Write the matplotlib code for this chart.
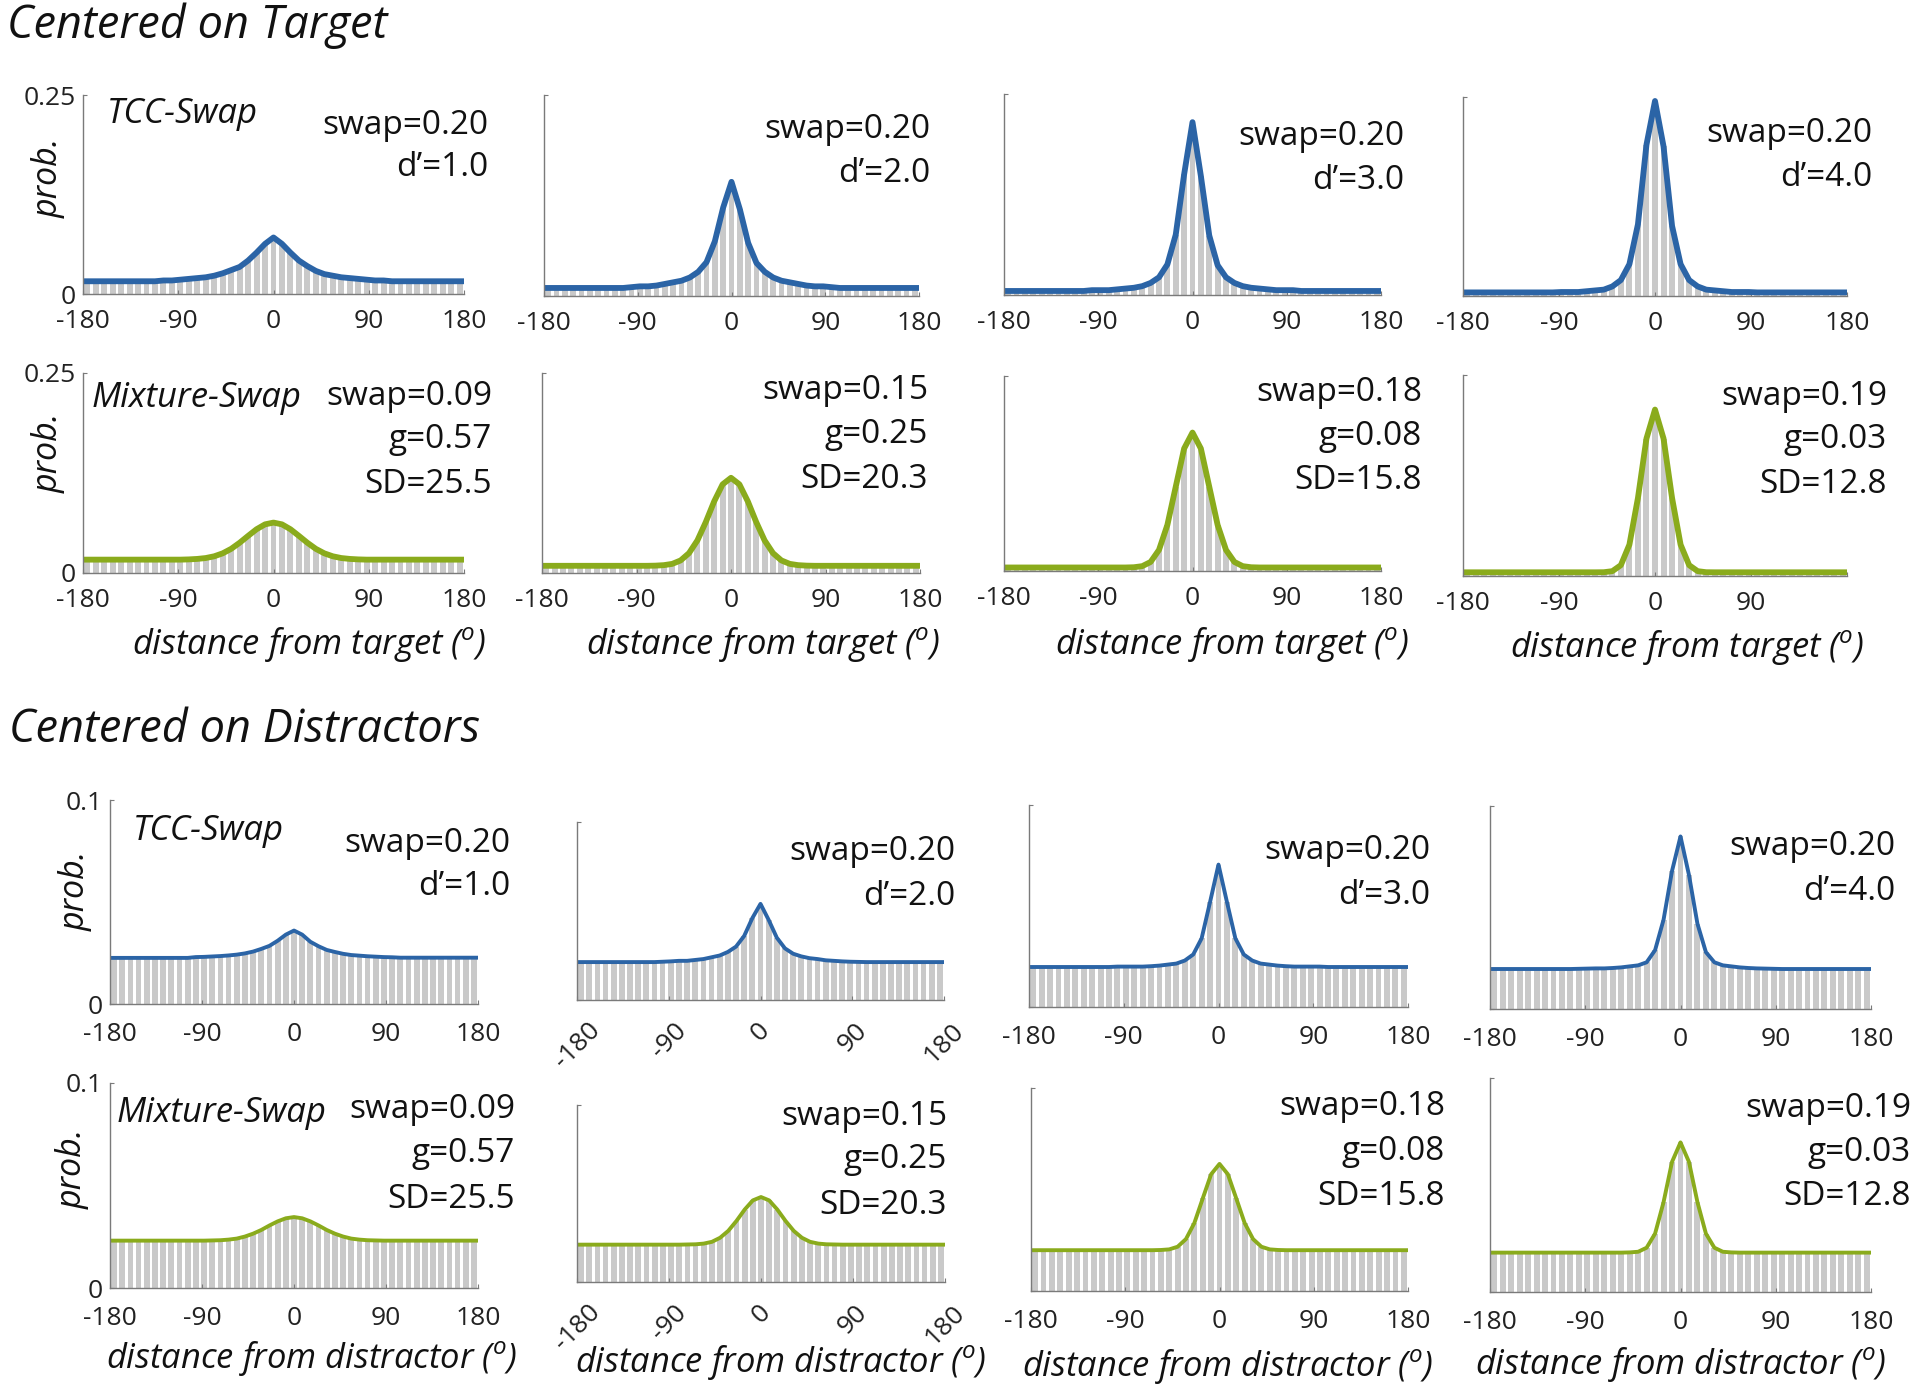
import numpy as np
import matplotlib
matplotlib.use("Agg")
import matplotlib.pyplot as plt

plt.rcParams['font.family'] = ['Open Sans', 'DejaVu Sans']
plt.rcParams['axes.unicode_minus'] = False
plt.rcParams['mathtext.fontset'] = 'custom'
plt.rcParams['mathtext.rm'] = 'Open Sans'
plt.rcParams['mathtext.it'] = 'Open Sans:italic'

# ---------------- data ----------------
bin_centers = list(range(-176, 177, 8))          # 45 bins of 8 deg
xticks = [-180, -90, 0, 90, 180]

# Centered on target, TCC-Swap (d' = 1..4)
tcc_target_d1 = [0.016,0.016,0.016,0.016,0.016,0.016,0.016,0.016,0.016,0.017,0.017,0.018,0.019,0.020,0.021,0.023,0.026,0.030,0.034,0.042,0.052,0.063,
                 0.071,
                 0.063,0.052,0.042,0.035,0.029,0.025,0.023,0.021,0.020,0.019,0.018,0.017,0.017,0.016,0.016,0.016,0.016,0.016,0.016,0.016,0.016,0.016]
tcc_target_d2 = [0.010,0.010,0.010,0.010,0.010,0.010,0.010,0.010,0.010,0.010,0.011,0.012,0.012,0.013,0.015,0.017,0.019,0.023,0.030,0.042,0.068,0.110,
                 0.142,
                 0.108,0.066,0.041,0.030,0.023,0.019,0.017,0.015,0.013,0.012,0.012,0.011,0.010,0.010,0.010,0.010,0.010,0.010,0.010,0.010,0.010,0.010]
tcc_target_d3 = [0.005,0.005,0.005,0.005,0.005,0.005,0.005,0.005,0.005,0.005,0.006,0.006,0.006,0.007,0.008,0.009,0.011,0.015,0.022,0.038,0.075,0.150,
                 0.215,
                 0.148,0.074,0.037,0.022,0.015,0.011,0.009,0.008,0.007,0.006,0.006,0.006,0.005,0.005,0.005,0.005,0.005,0.005,0.005,0.005,0.005,0.005]
tcc_target_d4 = [0.0045,0.0045,0.0045,0.0045,0.0045,0.0045,0.0045,0.0045,0.0045,0.0045,0.0045,0.005,0.005,0.005,0.006,0.007,0.008,0.012,0.020,0.040,0.090,0.190,
                 0.245,
                 0.188,0.088,0.040,0.020,0.012,0.008,0.007,0.006,0.005,0.005,0.005,0.0045,0.0045,0.0045,0.0045,0.0045,0.0045,0.0045,0.0045,0.0045,0.0045,0.0045]

# Centered on target, Mixture-Swap
mix_target_1 = [0.0167,0.0167,0.0167,0.0167,0.0167,0.0167,0.0167,0.0167,0.0167,0.0167,0.0167,0.0167,0.0170,0.0176,0.0187,0.0209,0.0246,0.0302,0.0378,0.0464,0.0547,0.0608,
                0.0630,
                0.0608,0.0547,0.0464,0.0378,0.0302,0.0246,0.0209,0.0187,0.0176,0.0170,0.0167,0.0167,0.0167,0.0167,0.0167,0.0167,0.0167,0.0167,0.0167,0.0167,0.0167,0.0167]
mix_target_2 = [0.0090,0.0090,0.0090,0.0090,0.0090,0.0090,0.0090,0.0090,0.0090,0.0090,0.0090,0.0090,0.0090,0.0092,0.0098,0.0114,0.0157,0.0248,0.0407,0.0637,0.0896,0.1108,
                0.1190,
                0.1108,0.0896,0.0637,0.0407,0.0248,0.0157,0.0114,0.0098,0.0092,0.0090,0.0090,0.0090,0.0090,0.0090,0.0090,0.0090,0.0090,0.0090,0.0090,0.0090,0.0090,0.0090]
mix_target_3 = [0.0045,0.0045,0.0045,0.0045,0.0045,0.0045,0.0045,0.0045,0.0045,0.0045,0.0045,0.0045,0.0045,0.0045,0.0045,0.0048,0.0062,0.0116,0.0270,0.0590,0.1080,0.1570,
                0.1775,
                0.1570,0.1080,0.0590,0.0270,0.0116,0.0062,0.0048,0.0045,0.0045,0.0045,0.0045,0.0045,0.0045,0.0045,0.0045,0.0045,0.0045,0.0045,0.0045,0.0045,0.0045,0.0045]
mix_target_4 = [0.0046,0.0046,0.0046,0.0046,0.0046,0.0046,0.0046,0.0046,0.0046,0.0046,0.0046,0.0046,0.0046,0.0046,0.0046,0.0046,0.0047,0.0060,0.0135,0.0390,0.0970,0.1710,
                0.2070,
                0.1710,0.0970,0.0390,0.0135,0.0060,0.0047,0.0046,0.0046,0.0046,0.0046,0.0046,0.0046,0.0046,0.0046,0.0046,0.0046,0.0046,0.0046,0.0046,0.0046,0.0046,0.0046]

# Centered on distractors, TCC-Swap
tcc_distr_d1 = [0.0226,0.0226,0.0226,0.0226,0.0226,0.0226,0.0226,0.0226,0.0226,0.0226,0.0230,0.0231,0.0233,0.0235,0.0238,0.0242,0.0248,0.0257,0.0270,0.0285,0.0310,0.0340,
                0.0360,
                0.0340,0.0305,0.0283,0.0265,0.0255,0.0246,0.0240,0.0237,0.0234,0.0232,0.0230,0.0229,0.0227,0.0227,0.0227,0.0227,0.0227,0.0227,0.0227,0.0227,0.0227,0.0227]
tcc_distr_d2 = [0.0213,0.0213,0.0213,0.0213,0.0213,0.0213,0.0213,0.0213,0.0213,0.0213,0.0215,0.0217,0.0220,0.0220,0.0225,0.0230,0.0240,0.0250,0.0270,0.0300,0.0360,0.0460,
                0.0540,
                0.0450,0.0350,0.0290,0.0260,0.0245,0.0235,0.0230,0.0223,0.0220,0.0217,0.0215,0.0214,0.0213,0.0213,0.0213,0.0213,0.0213,0.0213,0.0213,0.0213,0.0213,0.0213]
tcc_distr_d3 = [0.0198,0.0198,0.0198,0.0198,0.0198,0.0198,0.0198,0.0198,0.0198,0.0198,0.0200,0.0200,0.0200,0.0200,0.0202,0.0205,0.0210,0.0215,0.0230,0.0260,0.0340,0.0520,
                0.0705,
                0.0520,0.0340,0.0260,0.0230,0.0215,0.0210,0.0205,0.0202,0.0200,0.0200,0.0200,0.0200,0.0198,0.0198,0.0198,0.0198,0.0198,0.0198,0.0198,0.0198,0.0198,0.0198]
tcc_distr_d4 = [0.0197,0.0197,0.0197,0.0197,0.0197,0.0197,0.0197,0.0197,0.0197,0.0197,0.0198,0.0199,0.0200,0.0200,0.0202,0.0205,0.0210,0.0215,0.0230,0.0290,0.0440,0.0680,
                0.0850,
                0.0660,0.0420,0.0280,0.0230,0.0215,0.0210,0.0205,0.0202,0.0200,0.0199,0.0198,0.0197,0.0197,0.0197,0.0197,0.0197,0.0197,0.0197,0.0197,0.0197,0.0197,0.0197]

# Centered on distractors, Mixture-Swap
mix_distr_1 = [0.0231,0.0231,0.0231,0.0231,0.0231,0.0231,0.0231,0.0231,0.0231,0.0231,0.0231,0.0231,0.0232,0.0233,0.0236,0.0241,0.0251,0.0265,0.0283,0.0305,0.0325,0.0340,
               0.0346,
               0.0340,0.0325,0.0305,0.0283,0.0265,0.0251,0.0241,0.0236,0.0233,0.0232,0.0231,0.0231,0.0231,0.0231,0.0231,0.0231,0.0231,0.0231,0.0231,0.0231,0.0231,0.0231]
mix_distr_2 = [0.0211,0.0211,0.0211,0.0211,0.0211,0.0211,0.0211,0.0211,0.0211,0.0211,0.0211,0.0211,0.0211,0.0212,0.0213,0.0217,0.0227,0.0250,0.0289,0.0345,0.0409,0.0461,
               0.0480,
               0.0461,0.0409,0.0345,0.0289,0.0250,0.0227,0.0217,0.0213,0.0212,0.0211,0.0211,0.0211,0.0211,0.0211,0.0211,0.0211,0.0211,0.0211,0.0211,0.0211,0.0211,0.0211]
mix_distr_3 = [0.0201,0.0201,0.0201,0.0201,0.0201,0.0201,0.0201,0.0201,0.0201,0.0201,0.0201,0.0201,0.0201,0.0201,0.0201,0.0202,0.0205,0.0218,0.0256,0.0335,0.0456,0.0575,
               0.0626,
               0.0575,0.0456,0.0335,0.0256,0.0218,0.0205,0.0202,0.0201,0.0201,0.0201,0.0201,0.0201,0.0201,0.0201,0.0201,0.0201,0.0201,0.0201,0.0201,0.0201,0.0201,0.0201]
mix_distr_4 = [0.0184,0.0184,0.0184,0.0184,0.0184,0.0184,0.0184,0.0184,0.0184,0.0184,0.0184,0.0184,0.0184,0.0184,0.0184,0.0184,0.0185,0.0188,0.0207,0.0273,0.0420,0.0608,
               0.0699,
               0.0608,0.0420,0.0273,0.0207,0.0188,0.0185,0.0184,0.0184,0.0184,0.0184,0.0184,0.0184,0.0184,0.0184,0.0184,0.0184,0.0184,0.0184,0.0184,0.0184,0.0184,0.0184]

swap_tcc = ["0.20", "0.20", "0.20", "0.20"]
dprime = ["1.0", "2.0", "3.0", "4.0"]
swap_mix = ["0.09", "0.15", "0.18", "0.19"]
guess_mix = ["0.57", "0.25", "0.08", "0.03"]
sd_mix = ["25.5", "20.3", "15.8", "12.8"]

rows_data = [
    [tcc_target_d1, tcc_target_d2, tcc_target_d3, tcc_target_d4],
    [mix_target_1, mix_target_2, mix_target_3, mix_target_4],
    [tcc_distr_d1, tcc_distr_d2, tcc_distr_d3, tcc_distr_d4],
    [mix_distr_1, mix_distr_2, mix_distr_3, mix_distr_4],
]
for r in rows_data:
    for d in r:
        assert len(d) == len(bin_centers)

# ---------------- layout ----------------
W, H = 1920, 1393
fig = plt.figure(figsize=(W / 100, H / 100), dpi=100)

BLUE = '#2b64a6'
GREEN = '#8aab1c'
BAR = '#c9c9c9'
SPINE = '#7a7a7a'
TXT = '#111111'

def px(x, y):
    return x / W, 1 - y / H

# pixel boxes (x0, y0, x1, y1)
boxes = [
    [(83, 95, 464, 294), (544, 95, 919, 296), (1004, 94, 1381, 295), (1463, 97, 1847, 296)],
    [(83, 373, 464, 573), (542, 373, 920, 573), (1004, 376, 1381, 571), (1463, 375, 1847, 576)],
    [(110, 800, 478, 1004), (577, 822, 944, 1000), (1029, 805, 1408, 1007), (1490, 806, 1871, 1009)],
    [(110, 1083, 478, 1288), (577, 1105, 945, 1282), (1031, 1088, 1408, 1291), (1490, 1078, 1871, 1292)],
]
# annotation right edge and baselines
ann_pos = [
    [(488, [134, 176]), (930, [138, 182]), (1404, [145, 189]), (1872, [142, 186])],
    [(492, [405, 448, 493]), (928, [399, 443, 488]), (1422, [401, 445, 489]), (1887, [405, 448, 493])],
    [(510, [852, 895]), (955, [860, 905]), (1430, [859, 904]), (1895, [855, 900])],
    [(515, [1118, 1162, 1208]), (947, [1125, 1168, 1214]), (1445, [1115, 1160, 1205]), (1911, [1117, 1161, 1205])],
]
xlabel_pos = [
    None,
    [(309, 645), (763, 645), (1232, 645), (1687, 648)],
    None,
    [(312, 1359), (781, 1362), (1228, 1367), (1681, 1364)],
]

ymax = [0.25, 0.25, 0.1, 0.1]
colors = [BLUE, GREEN, BLUE, GREEN]
lws = [4.2, 4.2, 2.8, 2.8]
xpads = [11, 11, 13, 13]

ann_fs = 24
tick_fs = 19

for r in range(4):
    for c in range(4):
        x0, y0, x1, y1 = boxes[r][c]
        ax = fig.add_axes([x0 / W, 1 - y1 / H, (x1 - x0) / W, (y1 - y0) / H])
        vals = rows_data[r][c]
        ax.bar(bin_centers, vals, width=5.6, color=BAR, edgecolor='none', zorder=1)
        xl = [-180] + bin_centers + [180]
        yl = [vals[0]] + vals + [vals[-1]]
        ax.plot(xl, yl, color=colors[r], lw=lws[r], solid_capstyle='butt', solid_joinstyle='round', zorder=3)
        ax.set_xlim(-180, 180)
        ax.set_ylim(0, ymax[r])
        for s in ['top', 'right']:
            ax.spines[s].set_visible(False)
        for s in ['left', 'bottom']:
            ax.spines[s].set_color(SPINE)
            ax.spines[s].set_linewidth(1.0)
            ax.spines[s].set_zorder(4)
        ax.set_xticks(xticks)
        if r == 1 and c == 3:
            ax.set_xticklabels(['-180', '-90', '0', '90', ''])
        else:
            ax.set_xticklabels([str(t) for t in xticks])
        ax.set_yticks([0, ymax[r]])
        if c == 0:
            ax.set_yticklabels(['0', '0.25' if ymax[r] == 0.25 else '0.1'])
        else:
            ax.set_yticklabels(['', ''])
        ax.tick_params(axis='both', direction='in', length=3, width=0.8, color=SPINE,
                       labelsize=tick_fs, labelcolor='#222222')
        ax.tick_params(axis='x', pad=xpads[r])
        ax.tick_params(axis='y', pad=5)
        if r in (2, 3) and c == 1:
            for lab in ax.get_xticklabels():
                lab.set_rotation(45)
                lab.set_ha('center')
                lab.set_va('top')
            ax.tick_params(axis='x', pad=13)

        # annotations
        xr, bases = ann_pos[r][c]
        if r in (0, 2):
            lines = ["swap=" + swap_tcc[c], "d\u2019=" + dprime[c]]
        else:
            lines = ["swap=" + swap_mix[c], "g=" + guess_mix[c], "SD=" + sd_mix[c]]
        for txt, yb in zip(lines, bases):
            fx, fy = px(xr, yb)
            fig.text(fx, fy, txt, ha='right', va='baseline', fontsize=ann_fs, color=TXT)

        if xlabel_pos[r] is not None:
            lx, ly = xlabel_pos[r][c]
            word = 'target' if r == 1 else 'distractor'
            fx, fy = px(lx, ly)
            fig.text(fx, fy, 'distance from ' + word + r' ($^{o}$)', ha='center', va='center',
                     fontsize=24.8, style='italic', color=TXT)

# model labels
for (x, y, t) in [(107, 123, 'TCC-Swap'), (92, 407, 'Mixture-Swap'),
                  (133, 840, 'TCC-Swap'), (117, 1122, 'Mixture-Swap')]:
    fx, fy = px(x, y)
    fig.text(fx, fy, t, ha='left', va='baseline', fontsize=25, style='italic', color=TXT)

# y labels
for (x, y) in [(49, 178), (49, 453), (76, 891), (73, 1169)]:
    fx, fy = px(x, y)
    fig.text(fx, fy, 'prob.', ha='center', va='center', rotation=90, fontsize=24.5,
             style='italic', color=TXT)

# section titles
for (x, y, t) in [(7, 38, 'Centered on Target'), (9, 742, 'Centered on Distractors')]:
    fx, fy = px(x, y)
    fig.text(fx, fy, t, ha='left', va='baseline', fontsize=32.5, style='italic', color=TXT)

fig.savefig('out.png', dpi=100, facecolor='white')
